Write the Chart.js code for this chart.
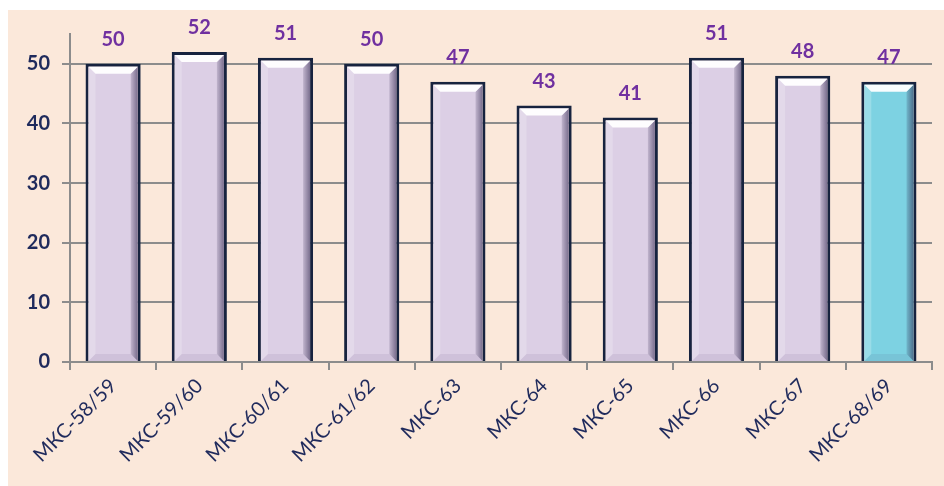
<!DOCTYPE html>
<html>
<head>
<meta charset="utf-8">
<script src="https://cdn.jsdelivr.net/npm/chart.js@4"></script>
<style>
  html, body { margin: 0; padding: 0; background: #ffffff; }
  #wrap {
    position: absolute; left: 8px; top: 10px;
    width: 936px; height: 476px;
    background: #fbe8da;
  }
</style>
</head>
<body>
<div id="wrap"><canvas id="myChart" width="936" height="476"></canvas></div>
<script>
// crew flights and value per mission
const missions = ["МКС-58/59", "МКС-59/60", "МКС-60/61", "МКС-61/62", "МКС-63",
                  "МКС-64", "МКС-65", "МКС-66", "МКС-67", "МКС-68/69"];
const values = [50, 52, 51, 50, 47, 43, 41, 51, 48, 47];
const yTicks = [0, 10, 20, 30, 40, 50];

const lilac = "#dccfe5";
const cyan = "#7dd2e2";
const navy = "#1f2a5c";

// simple bevel on top of each bar
const bevel = {
  id: "bevel",
  afterDatasetsDraw(chart) {
    const ctx = chart.ctx;
    chart.getDatasetMeta(0).data.forEach((bar, i) => {
      const l = bar.x - bar.width / 2 + 3;
      const r = bar.x + bar.width / 2 - 3;
      const t = bar.y + 3;
      const b = bar.base;
      const d = 7;
      ctx.save();
      // right
      const g = ctx.createLinearGradient(r - d, 0, r, 0);
      g.addColorStop(0, "rgba(40,30,70,0.15)");
      g.addColorStop(1, "rgba(40,30,70,0.55)");
      ctx.fillStyle = g;
      ctx.beginPath();
      ctx.moveTo(r, t); ctx.lineTo(r, b); ctx.lineTo(r - d, b - d); ctx.lineTo(r - d, t + d);
      ctx.closePath(); ctx.fill();
      // left
      ctx.fillStyle = "rgba(255,255,255,0.22)";
      ctx.beginPath();
      ctx.moveTo(l, t); ctx.lineTo(l, b); ctx.lineTo(l + d, b - d); ctx.lineTo(l + d, t + d);
      ctx.closePath(); ctx.fill();
      // bottom
      ctx.fillStyle = "rgba(60,40,90,0.08)";
      ctx.beginPath();
      ctx.moveTo(l, b); ctx.lineTo(r, b); ctx.lineTo(r - d, b - d); ctx.lineTo(l + d, b - d);
      ctx.closePath(); ctx.fill();
      // top
      ctx.fillStyle = "rgba(255,255,255,0.95)";
      ctx.beginPath();
      ctx.moveTo(l, t); ctx.lineTo(r, t); ctx.lineTo(r - d, t + d); ctx.lineTo(l + d, t + d);
      ctx.closePath(); ctx.fill();
      ctx.restore();
    });
  },
  afterDraw(chart) {
    // value labels
    const ctx = chart.ctx;
    ctx.save();
    ctx.font = "bold 20px Lato";
    ctx.fillStyle = "#7030a0";
    ctx.textAlign = "center";
    ctx.textBaseline = "middle";
    chart.getDatasetMeta(0).data.forEach((bar, i) => {
      ctx.fillText(values[i], bar.x, bar.y - 24);
    });
    ctx.restore();
  }
};

new Chart(document.getElementById("myChart").getContext("2d"), {
  type: "bar",
  data: {
    labels: missions,
    datasets: [{
      data: values,
      backgroundColor: values.map((v, i) => i === values.length - 1 ? cyan : lilac),
      borderColor: "#17233f",
      borderWidth: { top: 3, left: 3, right: 3, bottom: 0 },
      borderSkipped: false,
      barPercentage: 0.64,
      categoryPercentage: 1
    }]
  },
  options: {
    responsive: false,
    animation: false,
    layout: { padding: { top: 24, right: 12, left: 0, bottom: 0 } },
    plugins: { legend: { display: false }, tooltip: { enabled: false } },
    scales: {
      x: {
        grid: { drawOnChartArea: false, offset: true, tickLength: 8, color: "#8c8c8c", lineWidth: 2 },
        border: { color: "#8c8c8c", width: 2 },
        ticks: {
          minRotation: 45, maxRotation: 45,
          color: navy, padding: 4,
          font: { family: "Lato", size: 20 }
        },
        afterFit: s => { s.height = 124; }
      },
      y: {
        min: 0, max: 55,
        afterBuildTicks: s => { s.ticks = yTicks.concat([55]).map(v => ({ value: v })); },
        grid: {
          color: c => c.tick && c.tick.value === 55 ? "rgba(0,0,0,0)" : "#8c8c8c",
          lineWidth: 2, tickLength: 8
        },
        border: { color: "#8c8c8c", width: 2 },
        ticks: {
          callback: v => yTicks.includes(v) ? v : "",
          color: navy, padding: 12,
          font: { family: "Lato", size: 20, weight: "bold" }
        },
        afterFit: s => { s.width = 62; }
      }
    }
  },
  plugins: [bevel]
});
</script>
</body>
</html>
